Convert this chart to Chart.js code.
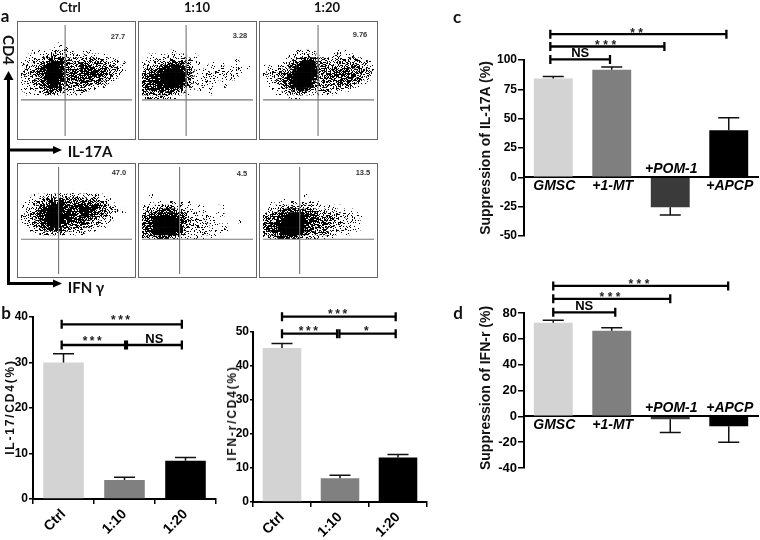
<!DOCTYPE html>
<html>
<head>
<meta charset="utf-8">
<script src="https://cdn.jsdelivr.net/npm/chart.js@4"></script>
<style>
    html, body { margin: 0; padding: 0; background: #fff; }
    #page { position: relative; width: 760px; height: 540px; overflow: hidden; filter: blur(0.4px); }
    #page canvas { position: absolute; }
    .txt { position: absolute; white-space: nowrap; color: #111; transform: translate(-50%, -50%); }
    .head { font: bold 13px Lato, sans-serif; }
    .letter { font: bold 17px Lato, sans-serif; }
    .pct { font: bold 7.5px "Liberation Sans", sans-serif; color: #333; }
    .axis { font: bold 15px Lato, sans-serif; }
    .ytitle { font: bold 14px "Liberation Sans", sans-serif; }
    .spaced { font: bold 12px "Liberation Sans", sans-serif; letter-spacing: 1.8px; }
</style>
</head>
<body>
<div id="page">
    <svg width="760" height="540" style="position:absolute;left:0;top:0">
        <g stroke="#000" stroke-width="3" fill="none">
            <path d="M8.5 284V78M8.5 150H55M7 283.5H55"/>
        </g>
        <g fill="#000">
            <path d="M8.5 71l5 9h-10z"/>
            <path d="M62 150l-9 -4v8z"/>
            <path d="M62 283.5l-9 -4v8z"/>
        </g>
    </svg>
</div>
<script>
// flow plots: estimated dot density per 4px cell, 0 empty .. 9 solid
const cloudIL17Ctrl = [
    "", "000000000010", "000000000111100", "000110112222110011100",
    "001111223443222222211110", "011222345665433334443322110", "122334578987654455655543321100",
    "123445799986655566766654322100", "233456899997556677877655332100", "233456899996556677787654321000",
    "123345899985556666766543210000", "122344799975545555554321100000", "112234689864444444332110000000",
    "111223567553332222110000000000", "011112345321111110000000000000"
];
const cloudIL17Low = [
    "", "", "", "000000011000",
    "001101011211001", "011122222222210000000000010", "122233456654321100110100110",
    "234456789986532101111210111010", "345678999987521112112211111", "456789999998631111212211110",
    "567889999998521111222111100", "5678899999974111121101", "567788999986421011110010",
    "567788877532110100100", "456656654321100000100", "122222221"
];
const cloudIL17High = [
    "", "", "", "00000000011111000001101",
    "0000000112233210011221111", "00000011345677543222333332110", "000001245789985443344444433210",
    "111122356899987544455555544321", "122233468999998654555666655321", "122345689999997545566766654321",
    "012345789999986445566666543210", "011234689999975444455555432100", "011123579999964334444443210000",
    "001112356887532223332211", "000111234443211111110", "00000001110"
];
const cloudIFNCtrl = [
    "", "", "000000000010010001", "00011112222222222122211",
    "00112334566554444544322100", "01123456788766667776644210", "11234678899877777889765321100",
    "12345789999887778887654321010", "12345789999887778876543210", "12345789999876677765432110",
    "12334689999766666543321100", "01233578997655555432211", "00122356775443332211100",
    "00011233322211111"
];
const cloudIFNLow = [
    "", "", "", "001",
    "", "001011121110100", "1223344432211011100011", "234566665432111111001",
    "345678888653112111101100", "456899999864222211110", "567999999974322221110000001", "567999999973322222111110",
    "567999999963222111111110", "467899999852211111011100", "345566665321101010110"
];
const cloudIFNHigh = [
    "", "", "", "000000000001",
    "000001", "001011121111111", "0122233344433321111110", "123345667765544322221111",
    "234567899987655443322211010", "3456789999976655544332111010", "45678999999876655443321111", "56789999999776555443221110",
    "56789999999765544332211111", "45678999998654433221111100", "2345778775433222111"
];

const flowClouds = [cloudIL17Ctrl, cloudIL17Low, cloudIL17High, cloudIFNCtrl, cloudIFNLow, cloudIFNHigh];
const flowGatesX = [47.3, 47.3, 59, 40.3, 40.3, 39.3];
const flowGatesY = [80.3, 80.3, 80.3, 77.7, 77.7, 77.7];
const flowPercents = ["27.7", "3.28", "9.76", "47.0", "4.5", "13.5"];

// bar panels
const doseLabels = ["Ctrl", "1:10", "1:20"];
const il17Values = [30.0, 4.2, 8.4];
const il17Errors = [31.9, 4.8, 9.1];
const ifnValues = [45.3, 7.0, 13.1];
const ifnErrors = [46.6, 7.9, 14.0];

const inhibitorLabels = ["GMSC", "+1-MT", "+POM-1", "+APCP"];
const suppIL17Values = [84.3, 91.7, -25.5, 40.2];
const suppIL17Errors = [86, 94, -32, 50.7];
const suppIFNValues = [72.5, 66.3, -2.3, -7.7];
const suppIFNErrors = [74.3, 68.6, -12.6, -20];

// from, to (category index), height (axis units), mark
const il17Brackets = [[-0.03, 1.94, 38.4, "***"], [-0.03, 1.01, 33.85, "***"], [1.04, 1.94, 33.85, "NS"]];
const ifnBrackets = [[0, 1.96, 54.5, "***"], [0, 0.95, 49.5, "***"], [0.99, 1.96, 49.5, "*"]];
const suppIL17Brackets = [[-0.05, 2.96, 122, "**"], [-0.05, 1.9, 111.5, "***"], [-0.05, 0.97, 100.5, "NS"]];
const suppIFNBrackets = [[0, 2.99, 101, "***"], [0, 2, 91, "***"], [0, 1.06, 80.5, "NS"]];

const greys = ["#d3d3d3", "#808080", "#000000"];
const greysFour = ["#d3d3d3", "#7f7f7f", "#3a3a3a", "#000000"];
const labelSideIL17 = [1, 1, -1, 1];
const labelSideIFN = [1, 1, -1, -1];

const page = document.getElementById("page");
const stipples = [];

// speckled fill per density level, fixed hashed tile so it is the same every run
function stipple(ctx, level) {
    if (stipples[level]) return stipples[level];
    const size = 64;
    const tile = document.createElement("canvas");
    tile.width = tile.height = size;
    const t = tile.getContext("2d");
    t.fillStyle = "#000";
    const amount = level === 9 ? 1.01 : Math.pow(level / 9, 0.9);
    for (let py = 0; py < size; py++) {
        for (let px = 0; px < size; px++) {
            const hash = Math.sin(px * 12.9898 + py * 78.233) * 43758.5453;
            if (hash - Math.floor(hash) < amount) t.fillRect(px, py, 1, 1);
        }
    }
    stipples[level] = ctx.createPattern(tile, "repeat");
    return stipples[level];
}

function addCanvas(left, top, width, height) {
    const c = document.createElement("canvas");
    c.width = width;
    c.height = height;
    c.style.left = left + "px";
    c.style.top = top + "px";
    page.appendChild(c);
    return c;
}

function addText(text, cls, x, y, rotate) {
    const d = document.createElement("div");
    d.className = "txt " + cls;
    d.textContent = text;
    d.style.left = x + "px";
    d.style.top = y + "px";
    if (rotate) d.style.transform = `translate(-50%, -50%) rotate(${rotate}deg)`;
    page.appendChild(d);
}

function renderFlow(index, left, top, height, rowStart) {
    const canvas = addCanvas(left, top, 119, height);
    canvas.style.outline = "1.5px solid #666";
    canvas.style.outlineOffset = "-1px";
    const ctx = canvas.getContext("2d");

    const points = [];
    const fills = [];
    flowClouds[index].forEach((row, j) => {
        [...row].forEach((ch, i) => {
            if (ch === "0") return;
            points.push({ x: i * 4 + 2, y: rowStart + j * 4 + 2 });
            fills.push(stipple(ctx, Number(ch)));
        });
    });

    new Chart(ctx, {
        type: "scatter",
        data: {
            datasets: [
                { data: [{ x: flowGatesX[index], y: 0 }, { x: flowGatesX[index], y: height }], showLine: true, pointRadius: 0, borderColor: "#777", borderWidth: 1.1, order: 0 },
                { data: [{ x: 0, y: flowGatesY[index] }, { x: 119, y: flowGatesY[index] }], showLine: true, pointRadius: 0, borderColor: "#777", borderWidth: 1.1, order: 0 },
                { data: points, pointStyle: "rect", pointRadius: 3.1, pointBorderWidth: 0, pointBackgroundColor: fills, order: 1 }
            ]
        },
        options: {
            responsive: false,
            animation: false,
            events: [],
            plugins: { legend: { display: false }, tooltip: { enabled: false } },
            scales: {
                x: { display: false, min: 0, max: 119 },
                y: { display: false, min: 0, max: height, reverse: true }
            }
        }
    });
}

function annotations(cfg) {
    return {
        id: "annotations",
        afterDatasetsDraw(chart) {
            const { ctx, scales: { x, y } } = chart;
            ctx.save();
            ctx.strokeStyle = "#111";
            ctx.lineWidth = 1.5;
            cfg.errors.forEach((err, i) => {
                const px = x.getPixelForValue(i);
                const py = y.getPixelForValue(err);
                ctx.beginPath();
                ctx.moveTo(px, y.getPixelForValue(cfg.values[i]));
                ctx.lineTo(px, py);
                ctx.moveTo(px - 10.5, py);
                ctx.lineTo(px + 10.5, py);
                ctx.stroke();
            });

            ctx.strokeStyle = "#000";
            ctx.lineWidth = 2.3;
            ctx.textAlign = "center";
            cfg.brackets.forEach(([from, to, level, mark]) => {
                const x0 = x.getPixelForValue(from);
                const x1 = x.getPixelForValue(to);
                const py = y.getPixelForValue(level);
                ctx.beginPath();
                ctx.moveTo(x0, py);
                ctx.lineTo(x1, py);
                ctx.moveTo(x0, py - 4.5);
                ctx.lineTo(x0, py + 4.5);
                ctx.moveTo(x1, py - 4.5);
                ctx.lineTo(x1, py + 4.5);
                ctx.stroke();
                ctx.textBaseline = "alphabetic";
                if (mark === "NS") {
                    ctx.fillStyle = "#000";
                    ctx.font = "bold 13px 'Liberation Sans'";
                    ctx.fillText(mark, (x0 + x1) / 2, py - 2);
                } else {
                    ctx.fillStyle = "#222";
                    ctx.font = "bold 12px 'Liberation Sans'";
                    ctx.letterSpacing = cfg.starGap + "px";
                    ctx.fillText(mark, (x0 + x1) / 2, py + cfg.starDrop);
                    ctx.letterSpacing = "0px";
                }
            });

            if (cfg.sides) {
                ctx.fillStyle = "#000";
                ctx.font = "italic bold 14px 'Liberation Sans'";
                ctx.textBaseline = "middle";
                const zero = y.getPixelForValue(0);
                cfg.labels.forEach((label, i) => {
                    ctx.fillText(label, x.getPixelForValue(i) + 1, zero + cfg.sides[i] * 8.5);
                });
            }
            ctx.restore();
        }
    };
}

function renderBars(cfg) {
    const canvas = addCanvas(cfg.left, cfg.top, cfg.width, cfg.height);
    new Chart(canvas.getContext("2d"), {
        type: "bar",
        data: {
            labels: cfg.labels,
            datasets: [{ data: cfg.values, backgroundColor: cfg.colors, borderWidth: 0, barPercentage: 0.665, categoryPercentage: 1 }]
        },
        options: {
            responsive: false,
            animation: false,
            events: [],
            layout: { padding: { top: cfg.padTop, right: cfg.padRight, bottom: cfg.padBottom } },
            plugins: { legend: { display: false }, tooltip: { enabled: false } },
            scales: {
                x: cfg.sides ? {
                    position: { y: 0 },
                    grid: { display: false },
                    border: { color: "#000", width: 2 },
                    ticks: { display: false },
                    afterFit: s => { s.height = 0; }
                } : {
                    position: "bottom",
                    grid: { drawOnChartArea: false, color: "#000", lineWidth: 1.5, tickLength: 5 },
                    border: { color: "#000", width: 2 },
                    ticks: { color: "#000", maxRotation: 45, minRotation: 45, padding: 2, font: { family: "Liberation Sans", weight: "bold", size: 14 } },
                    afterFit: s => { s.height = cfg.axisHeight; }
                },
                y: {
                    min: cfg.min,
                    max: cfg.max,
                    grid: { drawOnChartArea: false, color: "#000", lineWidth: 1.5, tickLength: cfg.tickLength },
                    border: { color: "#000", width: 2 },
                    ticks: { stepSize: cfg.step, color: "#000", padding: 1, font: { family: "Liberation Sans", weight: "bold", size: cfg.tickSize } },
                    afterFit: s => { s.width = cfg.gutter; }
                }
            }
        },
        plugins: [annotations(cfg)]
    });
}

renderFlow(0, 17, 21, 119, 15);
renderFlow(1, 138, 21, 119, 15);
renderFlow(2, 259, 21, 119, 15);
renderFlow(3, 17, 163, 115, 17);
renderFlow(4, 138, 163, 115, 17);
renderFlow(5, 259, 163, 115, 17);

renderBars({ left: 0, top: 295, width: 225, height: 245, gutter: 33, padTop: 22, padRight: 9, padBottom: 0, axisHeight: 41, starGap: 2.5, starDrop: 0, tickLength: 4,
    labels: doseLabels, values: il17Values, errors: il17Errors, brackets: il17Brackets, colors: greys, min: 0, max: 40, step: 10, tickSize: 12 });
renderBars({ left: 225, top: 295, width: 205, height: 245, gutter: 28, padTop: 37, padRight: 3, padBottom: 0, axisHeight: 38, starGap: 2.5, starDrop: 1, tickLength: 3,
    labels: doseLabels, values: ifnValues, errors: ifnErrors, brackets: ifnBrackets, colors: greys, min: 0, max: 50, step: 10, tickSize: 12 });
renderBars({ left: 430, top: 0, width: 330, height: 260, gutter: 94, padTop: 60, padRight: 2, padBottom: 24, starGap: 3.5, starDrop: 2.5, tickLength: 6,
    labels: inhibitorLabels, values: suppIL17Values, errors: suppIL17Errors, brackets: suppIL17Brackets, colors: greysFour, sides: labelSideIL17, min: -50, max: 100, step: 25, tickSize: 12 });
renderBars({ left: 430, top: 260, width: 330, height: 280, gutter: 94, padTop: 53, padRight: 2, padBottom: 72, starGap: 3.5, starDrop: 2.5, tickLength: 6,
    labels: inhibitorLabels, values: suppIFNValues, errors: suppIFNErrors, brackets: suppIFNBrackets, colors: greysFour, sides: labelSideIFN, min: -40, max: 80, step: 20, tickSize: 13 });

// panel text
addText("a", "letter", 5, 15);
addText("b", "letter", 6, 312);
addText("c", "letter", 457, 16);
addText("d", "letter", 458, 312);
addText("Ctrl", "head", 70, 7);
addText("1:10", "head", 197, 7);
addText("1:20", "head", 327, 7);
[[118, 35.5], [240, 35], [360, 34], [119, 172], [242, 173], [363, 172]].forEach(([x, y], i) => addText(flowPercents[i], "pct", x, y));
addText("CD4", "axis", 9, 50, 90);
addText("IL-17A", "axis", 90, 151);
addText("IFN γ", "axis", 86, 287);
addText("IL-17/CD4(%)", "spaced", 10, 407, -90);
addText("IFN-r/CD4(%)", "spaced", 232, 413, -90);
addText("Suppression of IL-17A (%)", "ytitle", 485, 148, -90);
addText("Suppression of IFN-r (%)", "ytitle", 485, 388, -90);
</script>
</body>
</html>
